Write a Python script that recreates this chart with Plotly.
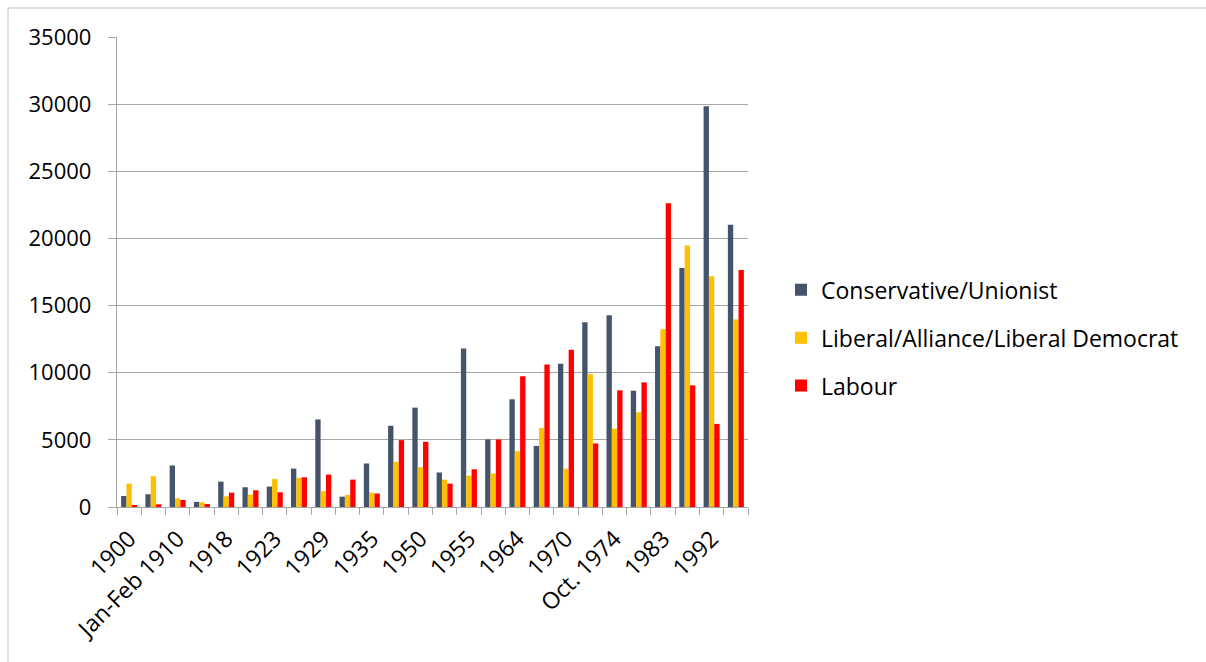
import plotly.graph_objects as go

categories = ["1900", "1906", "Jan-Feb 1910", "Dec 1910", "1918", "1922", "1923", "1924",
              "1929", "1931", "1935", "1945", "1950", "1951", "1955", "1959", "1964",
              "1966", "1970", "Feb. 1974", "Oct. 1974", "1979", "1983", "1987", "1992", "1997"]

conservative = [820, 950, 3090, 380, 1890, 1470, 1520, 2860,
                6520, 770, 3240, 6050, 7400, 2570, 11800, 5030, 8020,
                4550, 10670, 13760, 14280, 8660, 11980, 17800, 29850, 21010]
liberal = [1740, 2290, 650, 350, 800, 920, 2090, 2170,
           1170, 900, 1070, 3360, 2960, 2040, 2340, 2490, 4150,
           5890, 2850, 9880, 5840, 7050, 13240, 19480, 17190, 13960]
labour = [150, 200, 520, 220, 1070, 1245, 1100, 2210,
          2415, 2040, 1000, 4980, 4860, 1740, 2810, 5030, 9730,
          10620, 11710, 4730, 8690, 9280, 22620, 9060, 6190, 17650]

series_names = ["Conservative/Unionist", "Liberal/Alliance/Liberal Democrat", "Labour"]
series_colors = ["#44546A", "#FFC000", "#FF0000"]
series_values = [conservative, liberal, labour]

# Excel shows every other category label
tick_text = [c if i % 2 == 0 else "" for i, c in enumerate(categories)]

FONT = "Open Sans"

fig = go.Figure()
for name, color, vals in zip(series_names, series_colors, series_values):
    fig.add_trace(go.Bar(x=categories, y=vals, name=name, marker_color=color,
                         marker_line_width=0, legendgroup=name))

grid = "#A6A6A6"
fig.update_layout(
    width=1206, height=662,
    margin=dict(l=117, r=458, t=37, b=155),
    paper_bgcolor="white", plot_bgcolor="white",
    barmode="group", bargap=0.34, bargroupgap=0,
    font=dict(family=FONT, size=22, color="black"),
    showlegend=True,
    legend=dict(x=(781 - 117) / 631, y=0.36, xanchor="left", yanchor="middle",
                font=dict(family=FONT, size=23, color="black"),
                tracegroupgap=15, itemwidth=30),
    xaxis=dict(type="category", tickmode="array", tickvals=categories, ticktext=tick_text,
               tickson="boundaries", ticks="outside", ticklen=7,
               tickcolor=grid, tickwidth=1.3, tickangle=-45,
               ticklabelstandoff=8,
               showline=True, linecolor=grid, linewidth=1.3, showgrid=False,
               tickfont=dict(family=FONT, size=23, color="black")),
    yaxis=dict(range=[0, 35000], dtick=5000, tick0=0, ticks="outside", ticklen=8,
               tickcolor=grid, tickwidth=1.3, showline=True, linecolor=grid, linewidth=1.3,
               showgrid=True, gridcolor=grid, gridwidth=1.3, zeroline=False,
               ticklabelstandoff=12,
               tickformat="d", tickfont=dict(family=FONT, size=22, color="black")),
    shapes=[
        dict(type="line", xref="paper", yref="paper", x0=(8 - 117) / 631, x1=(8 - 117) / 631,
             y0=(507 - 8) / 470, y1=(507 - 700) / 470, line=dict(color="#BFBFBF", width=1)),
        dict(type="line", xref="paper", yref="paper", x0=(8 - 117) / 631, x1=(1260 - 117) / 631,
             y0=(507 - 8) / 470, y1=(507 - 8) / 470, line=dict(color="#BFBFBF", width=1)),
    ],
)

fig.write_html("out.html")
